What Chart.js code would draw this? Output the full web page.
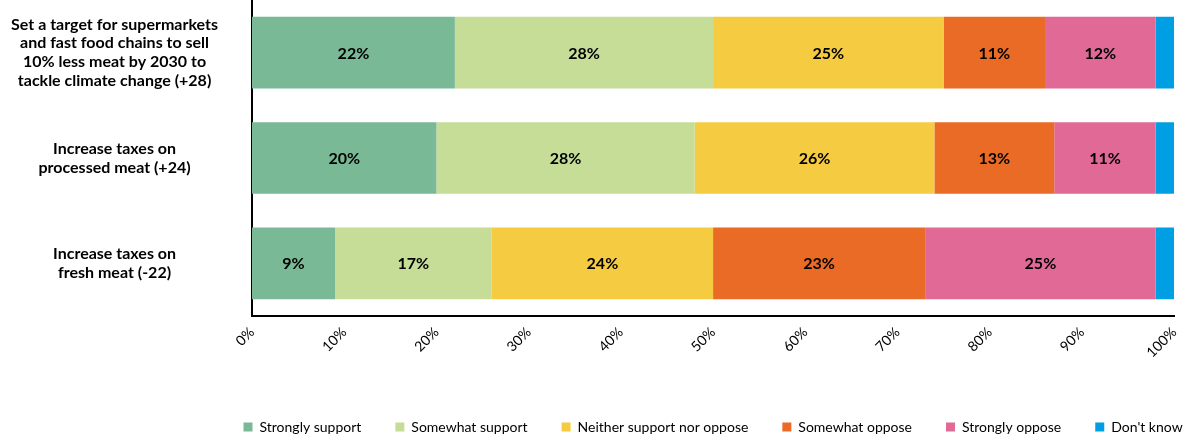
<!DOCTYPE html>
<html lang="en">
  <head>
    <meta charset="UTF-8" />
    <title>Meat policy support</title>
    <style>
      html, body { margin: 0; padding: 0; background: #fff; }
      #wrap { position: relative; width: 1194px; height: 435px; }
    </style>
  </head>
  <body>
    <div id="wrap">
      <canvas id="meatChart"></canvas>
    </div>
    <script src="https://cdn.jsdelivr.net/npm/chart.js"></script>
    <script>
      // categories (multi-line labels)
      const categories = [
        ["Set a target for supermarkets", "and fast food chains to sell", "10% less meat by 2030 to", "tackle climate change (+28)"],
        ["Increase taxes on", "processed meat (+24)"],
        ["Increase taxes on", "fresh meat (-22)"],
      ];

      // series values (%)
      const strongSupport = [22, 20, 9];
      const someSupport = [28, 28, 17];
      const neither = [25, 26, 24];
      const someOppose = [11, 13, 23];
      const strongOppose = [12, 11, 25];
      const dontKnow = [2, 2, 2];

      const xTicks = [0, 10, 20, 30, 40, 50, 60, 70, 80, 90, 100];

      const seriesNames = ["Strongly support", "Somewhat support", "Neither support nor oppose", "Somewhat oppose", "Strongly oppose", "Don't know"];
      const seriesData = [strongSupport, someSupport, neither, someOppose, strongOppose, dontKnow];
      const seriesColors = ["#79b995", "#c6dd98", "#f5cb42", "#ea6b25", "#e06a95", "#009ee2"];

      // draws the % labels in the middle of each segment
      const segmentLabels = {
        id: "segmentLabels",
        afterDatasetsDraw(chart) {
          const ctx = chart.ctx;
          ctx.save();
          ctx.font = "bold 16px Lato";
          ctx.fillStyle = "#000";
          ctx.textAlign = "center";
          ctx.textBaseline = "middle";
          chart.data.datasets.forEach((ds, i) => {
            if (ds.label === "Don't know") return;
            chart.getDatasetMeta(i).data.forEach((bar, j) => {
              const p = bar.getProps(["x", "y", "base"], true);
              ctx.fillText(ds.data[j] + "%", (p.x + p.base) / 2, p.y + 1);
            });
          });
          ctx.restore();
        },
      };

      // legend sits under the plot, not under the whole canvas
      const legendShift = {
        id: "legendShift",
        afterLayout(chart) {
          const lg = chart.legend;
          const dx = (chart.chartArea.left + chart.chartArea.right) / 2 - (lg.left + lg.right) / 2;
          lg.left += dx;
          lg.right += dx;
        },
      };

      const ctx = document.getElementById("meatChart").getContext("2d");
      new Chart(ctx, {
        type: "bar",
        data: {
          labels: categories,
          datasets: seriesData.map((d, i) => ({
            label: seriesNames[i],
            data: d,
            backgroundColor: seriesColors[i],
            borderWidth: 0,
            barPercentage: 0.68,
            categoryPercentage: 1,
          })),
        },
        options: {
          indexAxis: "y",
          responsive: true,
          maintainAspectRatio: false,
          animation: false,
          layout: { padding: { top: 0, right: 19, bottom: -9, left: 0 } },
          scales: {
            x: {
              stacked: true,
              min: 0,
              max: 100,
              afterBuildTicks(scale) {
                scale.ticks = xTicks.map((v) => ({ value: v }));
              },
              afterFit(scale) {
                scale.height = 70;
              },
              grid: { display: false, drawTicks: false },
              border: { display: true, color: "#000", width: 2 },
              ticks: {
                callback: (v) => v + "%",
                minRotation: 45,
                maxRotation: 45,
                autoSkip: false,
                padding: 8,
                color: "#000",
                font: { family: "Lato", size: 14 },
              },
            },
            y: {
              stacked: true,
              afterFit(scale) {
                scale.width = 252;
                scale.paddingTop = 0;
                scale.paddingBottom = 0;
              },
              grid: { display: false, drawTicks: false },
              border: { display: true, color: "#000", width: 2 },
              ticks: {
                autoSkip: false,
                crossAlign: "center",
                padding: 34,
                color: "#000",
                font: { family: "Lato", size: 16, weight: "bold", lineHeight: 1.17 },
              },
            },
          },
          plugins: {
            tooltip: { enabled: false },
            legend: {
              position: "bottom",
              labels: {
                boxWidth: 9,
                boxHeight: 9,
                padding: 34,
                color: "#000",
                font: { family: "Lato", size: 14 },
              },
            },
          },
        },
        plugins: [segmentLabels, legendShift],
      });
    </script>
  </body>
</html>
